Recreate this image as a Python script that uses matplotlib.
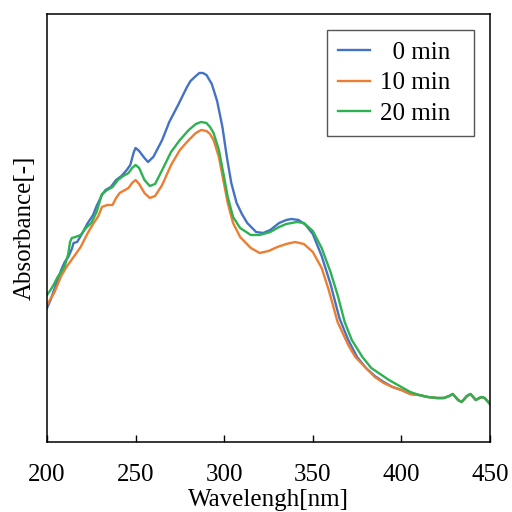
import numpy as np
import matplotlib
matplotlib.use("Agg")
import matplotlib.pyplot as plt

plt.rcParams['font.family'] = ['Liberation Serif', 'DejaVu Serif']

# datos (absorbancia en unidades arbitrarias)
wl_0 = [200, 202, 204, 206, 208, 210, 212, 214, 215, 217, 218, 220, 223, 226, 228, 231, 233, 236,
        239, 242, 245, 247, 249, 250, 252, 255, 257, 260, 265, 269, 274, 279, 281, 284, 286, 288,
        290, 293, 296, 299, 301.5, 304, 307, 310, 313, 318, 322, 326, 331, 335, 338, 342, 346, 350,
        355, 360, 365, 370, 375, 380, 385, 390, 395, 400, 405, 410, 415, 420, 424, 427, 429, 432,
        434, 437, 439, 442, 445, 447, 450]
abs_0 = [0.134, 0.142, 0.152, 0.162, 0.172, 0.180, 0.185, 0.193, 0.199, 0.200, 0.203, 0.209,
         0.219, 0.227, 0.236, 0.247, 0.252, 0.255, 0.262, 0.266, 0.272, 0.277, 0.290, 0.294,
         0.291, 0.284, 0.280, 0.285, 0.302, 0.320, 0.337, 0.355, 0.361, 0.366, 0.369, 0.369,
         0.367, 0.358, 0.341, 0.315, 0.285, 0.259, 0.239, 0.228, 0.219, 0.210, 0.209, 0.212,
         0.219, 0.222, 0.223, 0.222, 0.217, 0.208, 0.186, 0.158, 0.124, 0.102, 0.085, 0.074,
         0.066, 0.060, 0.055, 0.052, 0.048, 0.047, 0.045, 0.044, 0.044, 0.046, 0.048, 0.042,
         0.040, 0.046, 0.048, 0.042, 0.045, 0.044, 0.038]

wl_10 = [200, 204, 208, 211, 215, 219, 223, 226, 229, 231, 234, 237, 239, 241, 244, 246, 248, 250,
         252, 255, 258, 261, 265, 270, 275, 280, 284, 287, 290, 292, 294, 297, 299.5, 302, 305, 309,
         315, 320, 325, 330, 335, 340, 345, 350, 355, 359, 364, 370, 374, 380, 385, 390, 395, 400,
         405, 410, 415, 420, 424, 427, 429, 432, 434, 437, 439, 442, 445, 447, 450]
abs_10 = [0.137, 0.149, 0.166, 0.175, 0.185, 0.195, 0.209, 0.218, 0.226, 0.235, 0.237, 0.237,
          0.244, 0.249, 0.252, 0.254, 0.259, 0.262, 0.258, 0.249, 0.244, 0.246, 0.257, 0.277,
          0.292, 0.302, 0.309, 0.312, 0.311, 0.308, 0.302, 0.285, 0.262, 0.239, 0.219, 0.205,
          0.194, 0.189, 0.191, 0.195, 0.198, 0.200, 0.198, 0.190, 0.174, 0.152, 0.120, 0.097,
          0.085, 0.074, 0.065, 0.059, 0.055, 0.052, 0.048, 0.047, 0.045, 0.044, 0.044, 0.046,
          0.048, 0.042, 0.040, 0.046, 0.048, 0.042, 0.045, 0.044, 0.038]

wl_20 = [200, 202, 204, 206, 208, 210, 212, 213, 214, 216, 219, 222, 225, 228, 231, 234, 237, 240,
         243, 246, 248, 250, 252, 255, 258, 261, 265, 270, 275, 280, 284, 287, 290, 292, 294, 297,
         299.5, 302, 305, 309, 315, 320, 326, 331, 335, 341, 345, 350, 355, 360, 364, 368, 372, 378,
         383, 388, 393, 400, 405, 410, 415, 420, 424, 427, 429, 432, 434, 437, 439, 442, 445, 447, 450]
abs_20 = [0.147, 0.152, 0.158, 0.165, 0.170, 0.176, 0.188, 0.200, 0.204, 0.205, 0.207, 0.214,
          0.219, 0.230, 0.248, 0.252, 0.255, 0.262, 0.266, 0.269, 0.274, 0.277, 0.274, 0.262,
          0.256, 0.258, 0.272, 0.290, 0.302, 0.312, 0.318, 0.320, 0.319, 0.315, 0.309, 0.292,
          0.269, 0.245, 0.225, 0.214, 0.207, 0.207, 0.210, 0.215, 0.218, 0.220, 0.219, 0.211,
          0.194, 0.170, 0.147, 0.120, 0.102, 0.085, 0.074, 0.068, 0.062, 0.055, 0.050, 0.047,
          0.045, 0.044, 0.044, 0.046, 0.048, 0.042, 0.040, 0.046, 0.048, 0.042, 0.045, 0.044, 0.038]

fig = plt.figure(figsize=(5.12, 5.12), dpi=100)
ax = fig.add_axes([0.0918, 0.1367, 0.8652, 0.836])

ax.plot(wl_0, abs_0, color='#4472C4', lw=1.7, label='  0 min  ')
ax.plot(wl_10, abs_10, color='#ED7D31', lw=1.7, label='10 min  ')
ax.plot(wl_20, abs_20, color='#2EB150', lw=1.7, label='20 min  ')

ax.set_xlim(200, 450)
ax.set_ylim(0, 0.428)
ax.set_xticks([200, 250, 300, 350, 400, 450])
ax.set_yticks([])
ax.tick_params(axis='x', direction='in', length=5, width=1, pad=16, labelsize=18)
for s in ax.spines.values():
    s.set_linewidth(1.1)

ax.set_xlabel('Wavelengh[nm]', fontsize=18, labelpad=2)
ax.set_ylabel('Absorbance[-]', fontsize=18, labelpad=8)

leg = ax.legend(loc='upper right', fontsize=18, fancybox=False, framealpha=1,
                edgecolor='#555555', handlelength=1.25, handletextpad=0.4,
                labelspacing=0.32, borderaxespad=0.65, borderpad=0.45)
leg.get_frame().set_linewidth(1.0)

fig.savefig('out.png', dpi=100)
